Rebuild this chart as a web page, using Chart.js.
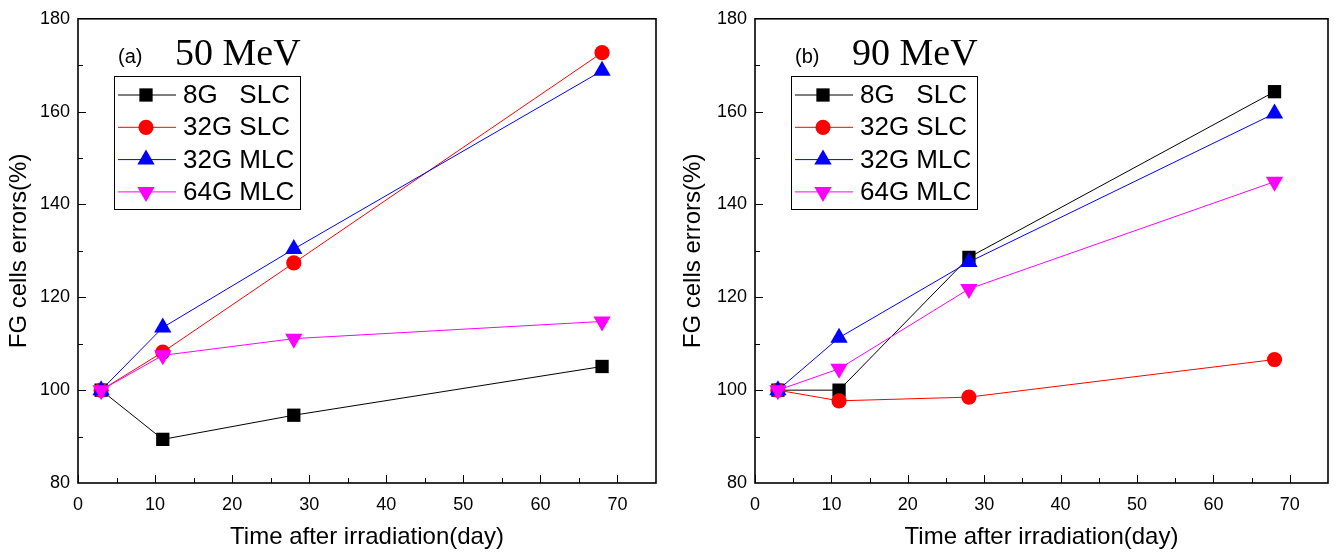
<!DOCTYPE html>
<html>
<head>
<meta charset="utf-8">
<script src="https://cdn.jsdelivr.net/npm/chart.js@4.4.1/dist/chart.umd.min.js"></script>
<style>
  html, body { margin: 0; padding: 0; background: #fff; }
  #wrap { position: relative; width: 1338px; height: 553px; }
  canvas { position: absolute; top: 0; }
  #left { left: 0; }
  #right { left: 669px; }
</style>
</head>
<body>
<div id="wrap">
  <canvas id="left" width="669" height="553"></canvas>
  <canvas id="right" width="669" height="553"></canvas>
</div>
<script>
// days after irradiation
const days = [3, 11, 28, 68];
const seriesNames = ['8G   SLC', '32G SLC', '32G MLC', '64G MLC'];
const seriesColors = ['#000000', '#ff0000', '#0000ff', '#ff00ff'];

// 50 MeV, FG cell errors (%)
const slc8_50 = [100, 89.4, 94.6, 105.1];
const slc32_50 = [100, 108.2, 127.4, 172.7];
const mlc32_50 = [100, 113.5, 130.4, 168.8];
const mlc64_50 = [100, 107.5, 111.1, 114.8];

// 90 MeV
const slc8_90 = [100, 100.0, 128.6, 164.3];
const slc32_90 = [100, 97.7, 98.5, 106.6];
const mlc32_90 = [100, 111.3, 127.6, 159.6];
const mlc64_90 = [100, 104.6, 121.8, 144.9];

const xTicks = [0, 10, 20, 30, 40, 50, 60, 70];
const yTicks = [80, 100, 120, 140, 160, 180];

// marker look per series
const markers = [
  { style: 'rect', radius: 9.4, rotation: 0 },
  { style: 'circle', radius: 7.6, rotation: 0 },
  { style: 'triangle', radius: 10, rotation: 0 },
  { style: 'triangle', radius: 10, rotation: 180 }
];

const sans = '"Liberation Sans", Arial, sans-serif';

// frame, inward ticks, panel label and legend
const decorPlugin = {
  id: 'decor',
  afterDraw(chart, args, opts) {
    const ctx = chart.ctx;
    const a = chart.chartArea;
    const xs = chart.scales.x, ys = chart.scales.y;
    ctx.save();
    ctx.strokeStyle = '#000';
    ctx.lineWidth = 1;
    // inward ticks
    ctx.beginPath();
    for (let v = 0; v <= 70; v += 5) {
      const px = Math.round(xs.getPixelForValue(v)) + 0.5;
      const len = v % 10 === 0 ? 8 : 5;
      ctx.moveTo(px, a.bottom);
      ctx.lineTo(px, a.bottom - len);
    }
    for (let v = 90; v < 180; v += 10) {
      const py = Math.round(ys.getPixelForValue(v)) + 0.5;
      const len = v % 20 === 0 ? 8 : 5;
      ctx.moveTo(a.left, py);
      ctx.lineTo(a.left + len, py);
    }
    ctx.stroke();
    // frame
    ctx.lineWidth = 1.6;
    ctx.strokeRect(a.left, a.top, a.right - a.left, a.bottom - a.top);

    // panel label
    ctx.fillStyle = '#000';
    ctx.textBaseline = 'alphabetic';
    ctx.font = '20px ' + sans;
    ctx.fillText(opts.tag, a.left + 40, 63);
    ctx.font = '38px "Liberation Serif", "Times New Roman", serif';
    ctx.fillText(opts.energy, a.left + 97, 65);

    // legend
    const bx = a.left + 36, by = 76, bw = 186, bh = 133;
    ctx.fillStyle = '#fff';
    ctx.fillRect(bx, by, bw, bh);
    ctx.lineWidth = 1;
    ctx.strokeStyle = '#000';
    ctx.strokeRect(bx + 0.5, by + 0.5, bw, bh);
    ctx.font = '26px ' + sans;
    ctx.textBaseline = 'middle';
    chart.data.datasets.forEach((ds, i) => {
      const cy = by + 19 + i * 32.3;
      ctx.strokeStyle = ds.borderColor;
      ctx.lineWidth = 1;
      ctx.beginPath();
      ctx.moveTo(bx + 4, cy);
      ctx.lineTo(bx + 62, cy);
      ctx.stroke();
      ctx.fillStyle = ds.backgroundColor;
      Chart.helpers.drawPoint(ctx, {
        pointStyle: ds.pointStyle,
        radius: ds.pointRadius,
        rotation: ds.pointRotation,
        borderWidth: 0
      }, bx + 32, cy);
      ctx.fillStyle = '#000';
      ctx.fillText(ds.label, bx + 69, cy + 1);
    });
    ctx.restore();
  }
};

function buildDatasets(rows) {
  return rows.map((vals, i) => ({
    label: seriesNames[i],
    data: days.map((d, k) => ({ x: d, y: vals[k] })),
    borderColor: seriesColors[i],
    backgroundColor: seriesColors[i],
    borderWidth: 1,
    tension: 0,
    pointStyle: markers[i].style,
    pointRadius: markers[i].radius,
    pointRotation: markers[i].rotation,
    pointBorderWidth: 0,
    order: 3 - i,
    clip: false
  }));
}

function makeChart(id, rows, tag, energy, axisLeft, rightPad, yTitlePad) {
  return new Chart(document.getElementById(id), {
    type: 'line',
    data: { datasets: buildDatasets(rows) },
    options: {
      responsive: false,
      animation: false,
      events: [],
      layout: { padding: { top: 18, right: rightPad, left: 0, bottom: 0 } },
      plugins: {
        legend: { display: false },
        tooltip: { enabled: false },
        decor: { tag: tag, energy: energy }
      },
      scales: {
        x: {
          type: 'linear',
          min: 0, max: 75,
          afterBuildTicks: s => { s.ticks = xTicks.map(v => ({ value: v })); },
          afterFit: s => { s.height = 70; },
          grid: { display: false, drawTicks: false },
          border: { display: false },
          ticks: { color: '#000', padding: 11, font: { family: sans, size: 18 } },
          title: {
            display: true, text: 'Time after irradiation(day)', color: '#000',
            padding: { top: 0, bottom: 1 },
            font: { family: sans, size: 24 }
          }
        },
        y: {
          type: 'linear',
          min: 80, max: 180,
          afterBuildTicks: s => { s.ticks = yTicks.map(v => ({ value: v })); },
          afterFit: s => { s.width = axisLeft; },
          grid: { display: false, drawTicks: false },
          border: { display: false },
          ticks: { color: '#000', padding: 8, font: { family: sans, size: 18 } },
          title: {
            display: true, text: 'FG cells errors(%)', color: '#000',
            padding: { top: yTitlePad, bottom: 0 },
            font: { family: sans, size: 24 }
          }
        }
      }
    },
    plugins: [decorPlugin]
  });
}

makeChart('left', [slc8_50, slc32_50, mlc32_50, mlc64_50], '(a)', '50 MeV', 78, 13, 5);
makeChart('right', [slc8_90, slc32_90, mlc32_90, mlc64_90], '(b)', '90 MeV', 86, 5, 10);
</script>
</body>
</html>
